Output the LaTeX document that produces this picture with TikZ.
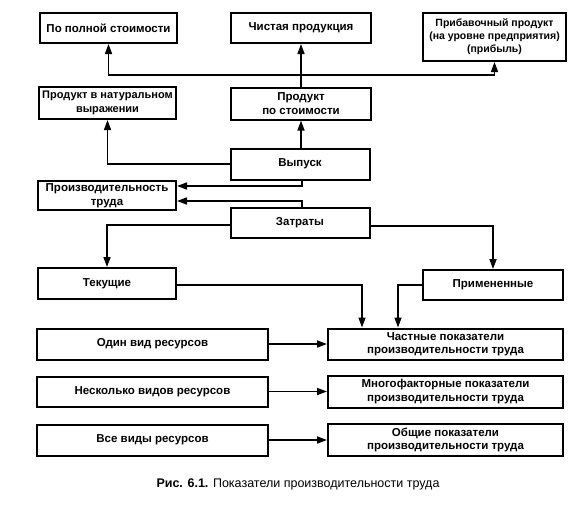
\documentclass[tikz,border=0pt]{standalone}
\usepackage{fontspec}
\setmainfont{Liberation Sans}
\usetikzlibrary{arrows.meta}
\begin{document}
\begin{tikzpicture}[x=1pt,y=-1pt,
  box/.style={draw,line width=2pt,inner sep=1pt,align=center,font=\bfseries\fontsize{11.5}{13.5}\selectfont},
  conn/.style={line width=1.5pt,-{Triangle[length=10pt,width=7pt]}}]
\useasboundingbox (0,0) rectangle (588,507);
\node[box,minimum width=137pt,minimum height=30pt] (b1) at (108.5,28) {По полной стоимости};
\node[box,minimum width=140pt,minimum height=30pt] (b2) at (301,28) {Чистая продукция};
\node[box,minimum width=143pt,minimum height=48pt,font=\bfseries\fontsize{10.5}{13}\selectfont] (b3) at (494.5,37) {Прибавочный продукт\\(на уровне предприятия)\\(прибыль)};
\node[box,minimum width=137pt,minimum height=32pt,font=\bfseries\fontsize{11}{13.5}\selectfont] (b4) at (107.5,103) {Продукт в натуральном\\выражении};
\node[box,minimum width=140pt,minimum height=32pt] (b5) at (301,103.5) {Продукт\\по стоимости};
\node[box,minimum width=139pt,minimum height=31pt] (b6) at (300,164) {Выпуск};
\node[box,minimum width=138pt,minimum height=29pt] (b7) at (107,195.5) {Производительность\\труда};
\node[box,minimum width=139pt,minimum height=30pt] (b8) at (300,223) {Затраты};
\node[box,minimum width=138pt,minimum height=31pt] (b9) at (107,283.5) {Текущие};
\node[box,minimum width=140pt,minimum height=30pt] (b10) at (493,285) {Примененные};
\node[box,minimum width=231pt,minimum height=31pt] (b11) at (152.5,344) {Один вид ресурсов};
\node[box,minimum width=235pt,minimum height=31pt] (b12) at (445.5,344) {Частные показатели\\производительности труда};
\node[box,minimum width=231pt,minimum height=30pt] (b13) at (152.5,391.5) {Несколько видов ресурсов};
\node[box,minimum width=235pt,minimum height=32pt] (b14) at (445.5,391.5) {Многофакторные показатели\\производительности труда};
\node[box,minimum width=231pt,minimum height=31pt] (b15) at (152.5,440) {Все виды ресурсов};
\node[box,minimum width=235pt,minimum height=32pt] (b16) at (445.5,440) {Общие показатели\\производительности труда};
\node[font=\fontsize{12.5}{14}\selectfont] (cap) at (298,484) {\textbf{Рис. 6.1.} Показатели производительности труда};
% connectors
\coordinate (j1) at (301,75);
\draw[conn] (b5.north) -- (b2.south);
\draw[conn] (j1) -| (b1.south);
\draw[conn] (j1) -| (b3.south);
\draw[conn] (b5.south |- b6.north) -- (b5.south);
\draw[conn] (b6.west) -| (b4.south);
\draw[conn] ([xshift=2pt]b6.south) |- ([yshift=9.5pt]b7.east);
\draw[conn] ([xshift=2pt]b8.north) |- ([yshift=-5.5pt]b7.east);
\draw[conn] ([yshift=-2pt]b8.west) -| (b9.north);
\draw[conn] ([yshift=-3pt]b8.east) -| (b10.north);
\draw[conn] ([yshift=-1.5pt]b9.east) -| ([xshift=-83.5pt]b12.north);
\draw[conn] (b10.west) -| ([xshift=-47.5pt]b12.north);
\draw[conn] (b11.east) -- (b12.west);
\draw[conn] (b13.east) -- (b14.west);
\draw[conn] (b15.east) -- (b16.west);
\end{tikzpicture}
\end{document}
